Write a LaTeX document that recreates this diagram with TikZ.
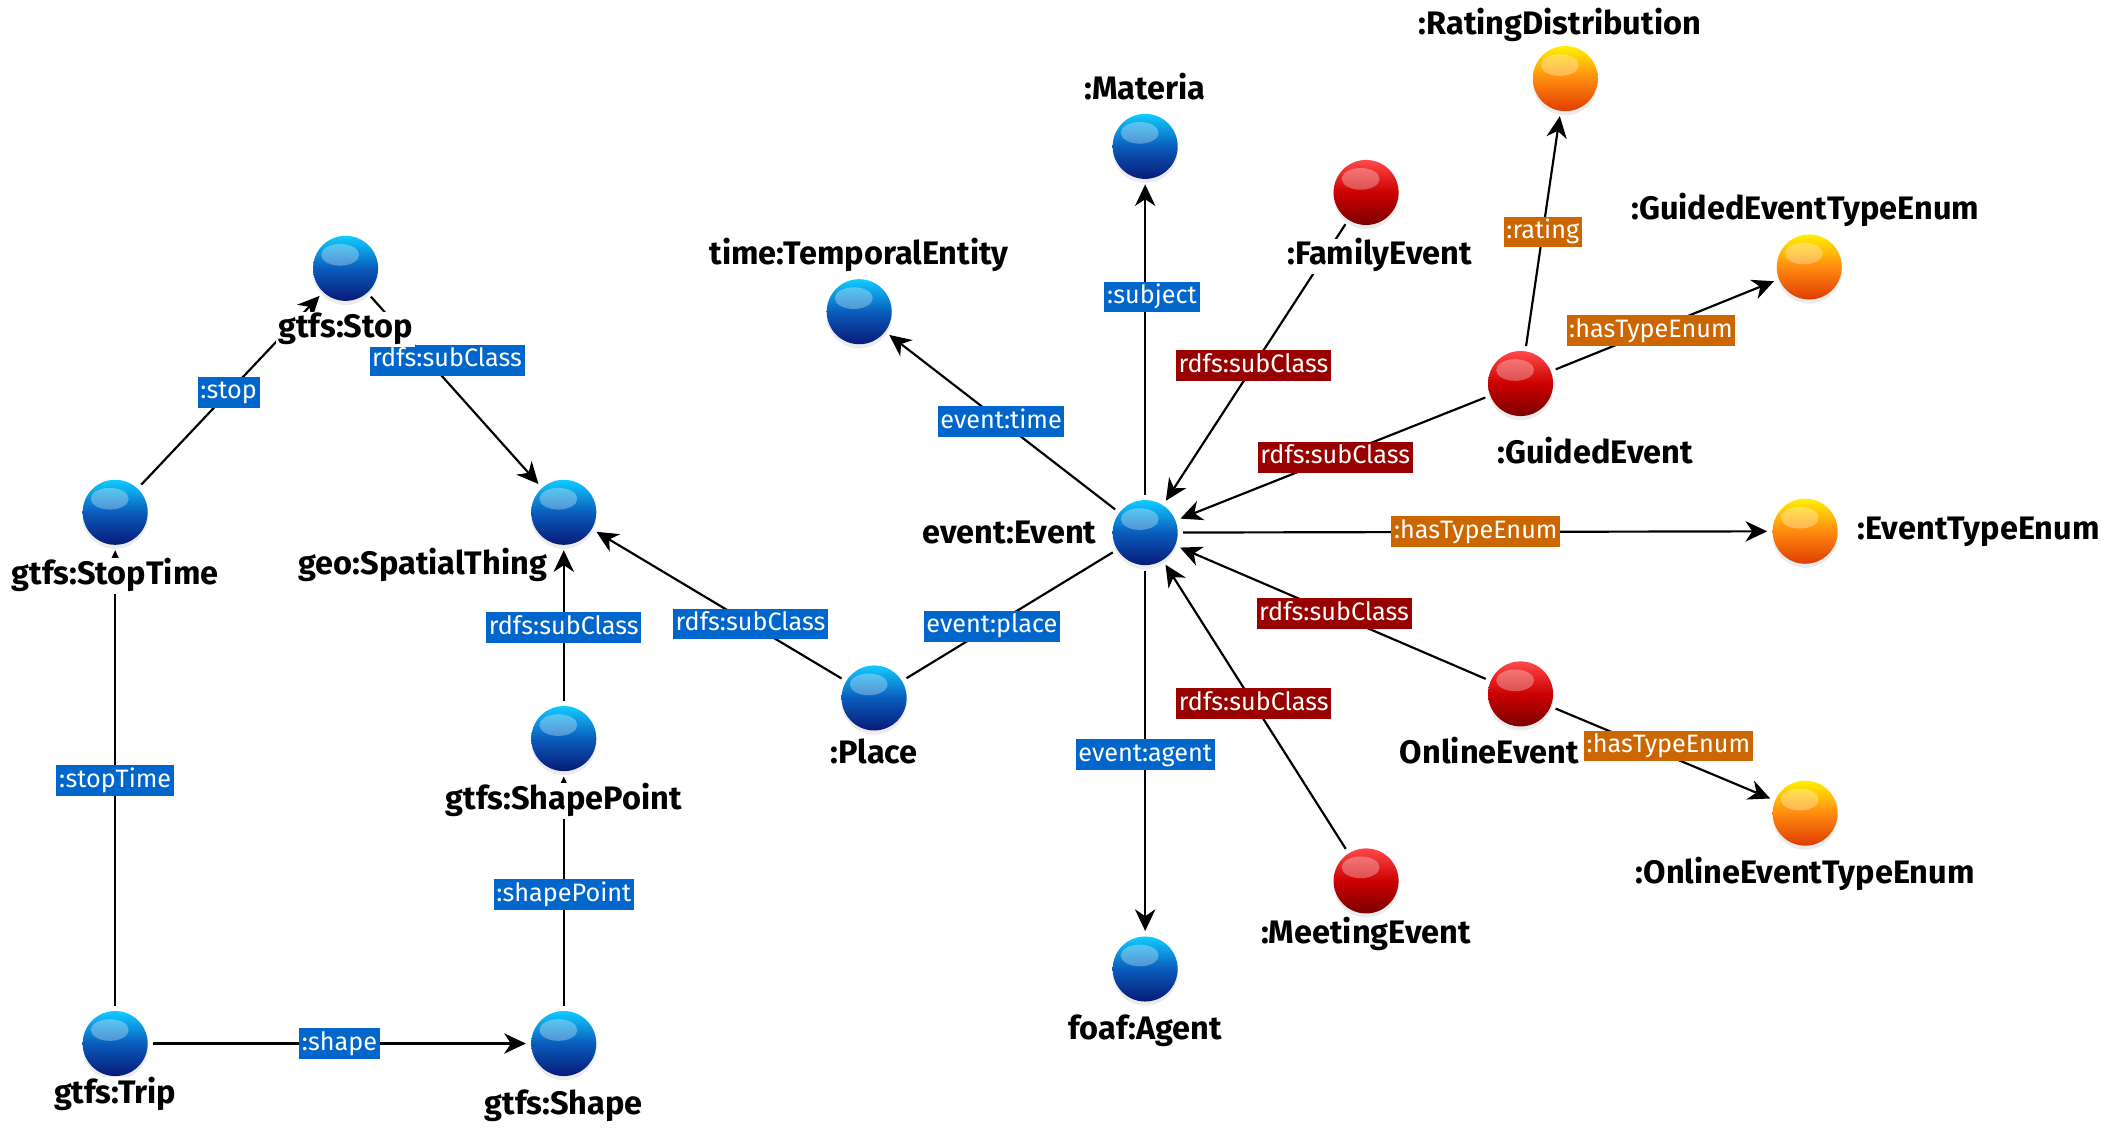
\documentclass[tikz,border=0pt]{standalone}
\usepackage{fontspec}
\setmainfont{Fira Sans}
\usetikzlibrary{arrows.meta,shadows}
\definecolor{lblue}{HTML}{0066CC}
\definecolor{lred}{HTML}{990000}
\definecolor{lorange}{HTML}{CC6600}
\definecolor{bTop}{HTML}{10CCFF}
\definecolor{bMid}{HTML}{0A5CBC}
\definecolor{bBot}{HTML}{081A78}
\definecolor{rTop}{HTML}{FF4A4A}
\definecolor{rMid}{HTML}{CC0000}
\definecolor{rBot}{HTML}{7A0000}
\definecolor{oTop}{HTML}{FFF000}
\definecolor{oMid}{HTML}{FF8A10}
\definecolor{oBot}{HTML}{E03C00}
\tikzset{
  sph/.style={circle, minimum size=24pt, inner sep=0pt, outer sep=2pt,
    drop shadow={shadow xshift=0pt, shadow yshift=-1.5pt, opacity=0.15},
    path picture={\fill[white, opacity=0.3] ([xshift=-2pt,yshift=5pt]path picture bounding box.center) ellipse (7pt and 4pt);}},
  bsph/.style={sph, top color=bTop, bottom color=bBot, middle color=bMid},
  rsph/.style={sph, top color=rTop, bottom color=rBot, middle color=rMid},
  osph/.style={sph, top color=oTop, bottom color=oBot, middle color=oMid},
  cls/.style={font=\bfseries\fontsize{12}{14}\selectfont, fill=white, inner sep=1pt, text height=8.6pt, text depth=2.4pt},
  lbl/.style={font=\fontsize{9.3}{11}\selectfont, text=white, inner xsep=1pt, inner ysep=1pt, text height=7.2pt, text depth=2.2pt},
  lb/.style={lbl, fill=lblue},
  lr/.style={lbl, fill=lred},
  lo/.style={lbl, fill=lorange},
  edge/.style={line width=0.8pt, -{Stealth[length=8pt,width=7.5pt,inset=2.5pt]}},
  plain/.style={line width=0.8pt},
}
\begin{document}
\begin{tikzpicture}[x=0.5pt, y=-0.5pt]
\useasboundingbox (0,0) rectangle (1568,836);
% spheres
\node[bsph] (stop) at (255,198) {};
\node[bsph] (stoptime) at (85,378) {};
\node[bsph] (spatial) at (416,378) {};
\node[bsph] (shapepoint) at (416,545) {};
\node[bsph] (trip) at (85,770) {};
\node[bsph] (shape) at (416,770) {};
\node[bsph] (place) at (645,515) {};
\node[bsph] (temporal) at (634,230) {};
\node[bsph] (materia) at (845,108) {};
\node[bsph] (event) at (845,393) {};
\node[bsph] (agent) at (845,715) {};
\node[rsph] (family) at (1008,142) {};
\node[rsph] (guided) at (1122,283) {};
\node[osph] (rating) at (1155,58) {};
\node[osph] (guidedenum) at (1335,197) {};
\node[osph] (eventenum) at (1332,392) {};
\node[rsph] (online) at (1122,512) {};
\node[osph] (onlineenum) at (1332,600) {};
\node[rsph] (meeting) at (1008,650) {};
% edges
\draw[edge] (stoptime) -- node[lb, pos=0.49] (l1) {:stop} (stop);
\draw[edge] (stop) -- node[lb, pos=0.39, xshift=4pt, yshift=3.5pt] (l2) {rdfs:subClass} (spatial);
\draw[edge] (trip) -- node[lb, pos=0.494] (l3) {:stopTime} (stoptime);
\draw[edge] (trip) -- node[lb, pos=0.5] (l4) {:shape} (shape);
\draw[edge] (shape) -- node[lb, pos=0.486] (l5) {:shapePoint} (shapepoint);
\draw[edge] (shapepoint) -- node[lb, pos=0.487] (l6) {rdfs:subClass} (spatial);
\draw[edge] (place) -- node[lb, pos=0.371] (l7) {rdfs:subClass} (spatial);
\draw[plain] (event) -- node[lb, pos=0.586] (l8) {event:place} (place);
\draw[edge] (event) -- node[lb, pos=0.505] (l9) {event:time} (temporal);
\draw[edge] (event) -- node[lb, pos=0.637, xshift=2.5pt] (l10) {:subject} (materia);
\draw[edge] (event) -- node[lb, pos=0.511] (l11) {event:agent} (agent);
\draw[edge] (family) -- node[lr, pos=0.512] (l12) {rdfs:subClass} (event);
\draw[edge] (guided) -- node[lr, pos=0.492] (l13) {rdfs:subClass} (event);
\draw[edge] (event) -- node[lo, pos=0.501] (l14) {:hasTypeEnum} (eventenum);
\draw[edge] (online) -- node[lr, pos=0.496] (l15) {rdfs:subClass} (event);
\draw[edge] (meeting) -- node[lr, pos=0.51] (l16) {rdfs:subClass} (event);
\draw[edge] (guided) -- node[lo, pos=0.496] (l17) {:rating} (rating);
\draw[edge] (guided) -- node[lo, pos=0.436] (l18) {:hasTypeEnum} (guidedenum);
\draw[edge] (online) -- node[lo, pos=0.507, xshift=1.5pt, yshift=3pt] (l19) {:hasTypeEnum} (onlineenum);
% class labels
\node[cls] (t-stop) at (255,243) {gtfs:Stop};
\node[cls] (t-stoptime) at (85,425) {gtfs:StopTime};
\node[cls] (t-spatial) at (312,418) {geo:SpatialThing};
\node[cls] (t-shapepoint) at (416,591) {gtfs:ShapePoint};
\node[cls] (t-trip) at (85,808) {gtfs:Trip};
\node[cls] (t-shape) at (416,816) {gtfs:Shape};
\node[cls] (t-place) at (645,557) {:Place};
\node[cls] (t-temporal) at (634,189) {time:TemporalEntity};
\node[cls] (t-materia) at (845,67) {:Materia};
\node[cls] (t-event) at (745,395) {event:Event};
\node[cls] (t-agent) at (845,761) {foaf:Agent};
\node[cls] (t-family) at (1018,189) {:FamilyEvent};
\node[cls] (t-guided) at (1177,336) {:GuidedEvent};
\node[cls] (t-rating) at (1151,19) {:RatingDistribution};
\node[cls] (t-guidedenum) at (1332,156) {:GuidedEventTypeEnum};
\node[cls] (t-eventenum) at (1460,392) {:EventTypeEnum};
\node[cls] (t-online) at (1099,557) {OnlineEvent};
\node[cls] (t-onlineenum) at (1332,646) {:OnlineEventTypeEnum};
\node[cls] (t-meeting) at (1008,690) {:MeetingEvent};
\end{tikzpicture}
\end{document}
